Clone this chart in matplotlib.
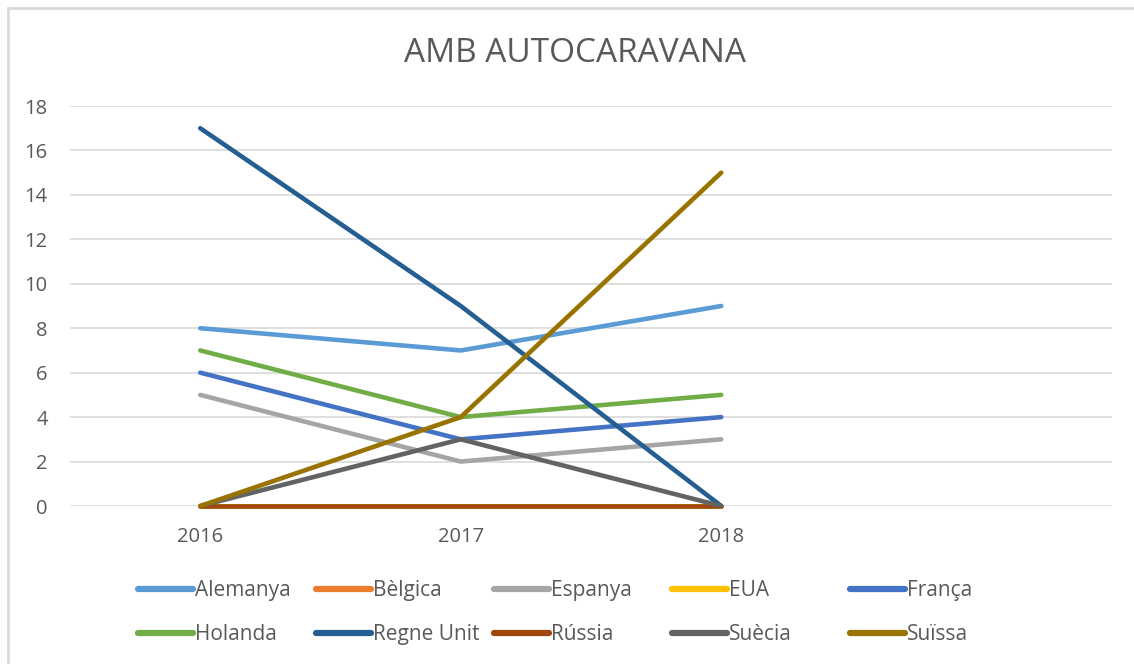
import matplotlib
matplotlib.use("Agg")
import matplotlib.pyplot as plt
from matplotlib.lines import Line2D
from matplotlib.patches import Rectangle

plt.rcParams["font.family"] = ["Open Sans", "DejaVu Sans"]

years = ["2016", "2017", "2018", ""]

alemanya = [8, 7, 9]
belgica = [0, 0, 0]
espanya = [5, 2, 3]
eua = [0, 0, 0]
franca = [6, 3, 4]
holanda = [7, 4, 5]
regne_unit = [17, 9, 0]
russia = [0, 0, 0]
suecia = [0, 3, 0]
suissa = [0, 4, 15]

series_names = [
    "Alemanya", "Bèlgica", "Espanya", "EUA", "França",
    "Holanda", "Regne Unit", "Rússia", "Suècia", "Suïssa",
]
series_values = [
    alemanya, belgica, espanya, eua, franca,
    holanda, regne_unit, russia, suecia, suissa,
]
series_colors = [
    "#5B9BD5", "#ED7D31", "#A5A5A5", "#FFC000", "#4472C4",
    "#70AD47", "#255E91", "#9E480E", "#636363", "#997300",
]

TEXT_COLOR = "#595959"
GRID_COLOR = "#D9D9D9"

fig = plt.figure(figsize=(11.34, 6.64), dpi=100)
ax = fig.add_axes([70 / 1134, 158 / 664, 1042 / 1134, 400 / 664])

x_pos = list(range(len(years)))
for name, values, color in zip(series_names, series_values, series_colors):
    ax.plot(
        x_pos[: len(values)],
        values,
        color=color,
        linewidth=3.3,
        solid_capstyle="round",
        solid_joinstyle="round",
        label=name,
        zorder=3,
        clip_on=False,
    )

ax.set_xlim(-0.5, len(years) - 0.5)
ax.set_ylim(0, 18)
ax.set_yticks(range(0, 19, 2))
ax.set_xticks(x_pos)
ax.set_xticklabels(years)
ax.grid(axis="y", color=GRID_COLOR, linewidth=1.2, zorder=0)
ax.set_axisbelow(True)
for spine in ax.spines.values():
    spine.set_visible(False)
ax.tick_params(
    axis="both",
    length=0,
    labelsize=14.5,
    labelcolor=TEXT_COLOR,
)
ax.tick_params(axis="x", pad=15)
ax.tick_params(axis="y", pad=16)

fig.text(
    575 / 1134,
    1 - 54 / 664,
    "AMB AUTOCARAVANA",
    ha="center",
    va="center",
    fontsize=24,
    color=TEXT_COLOR,
)

# marc del gràfic
fig.add_artist(
    Rectangle(
        (8 / 1134, -0.1),
        1.2,
        1.1 - 8 / 664,
        transform=fig.transFigure,
        fill=False,
        edgecolor=GRID_COLOR,
        linewidth=2,
    )
)

# llegenda: una columna per cada parella
for col in range(5):
    handles = []
    labels = []
    for row in range(2):
        idx = row * 5 + col
        handles.append(
            Line2D([0], [0], color=series_colors[idx], linewidth=4.5,
                   solid_capstyle="round")
        )
        labels.append(series_names[idx])
    fig.legend(
        handles,
        labels,
        loc="upper left",
        bbox_to_anchor=((138 + col * 178) / 1134, 1 - 580 / 664),
        frameon=False,
        fontsize=15,
        labelcolor=TEXT_COLOR,
        handlelength=2.65,
        handletextpad=0.1,
        labelspacing=1.1,
        borderpad=0,
        borderaxespad=0,
    )

fig.savefig("out.png", dpi=100)
